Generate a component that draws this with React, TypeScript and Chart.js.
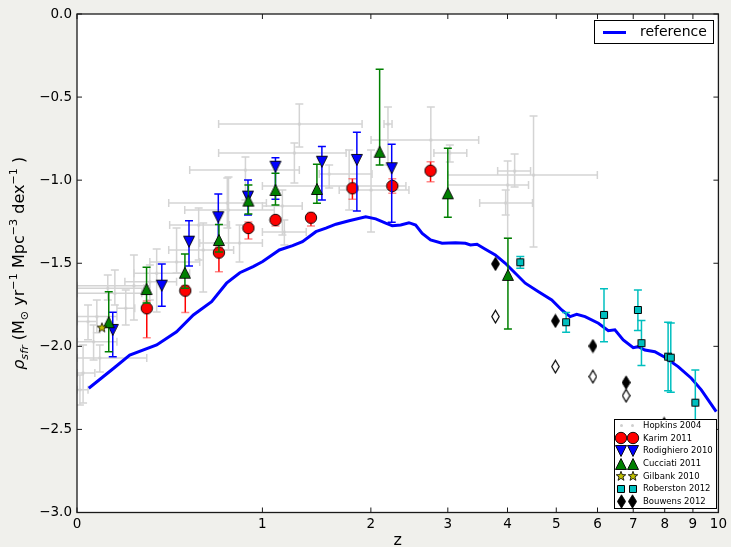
import React, { useEffect, useRef } from 'react';
import { Chart, registerables } from 'chart.js';

Chart.register(...registerables);

const FONT = "'DejaVu Sans', 'Liberation Sans', sans-serif";
const FIG_BG = '#f0f0ec';

// ---- reference model curve ----
const refZ = [0.045, 0.147, 0.218, 0.347, 0.451, 0.545, 0.654, 0.749, 0.838, 0.932, 1.002, 1.131, 1.239, 1.323, 1.443, 1.536, 1.633, 1.766, 1.943, 2.055, 2.171, 2.25, 2.354, 2.459, 2.547, 2.635, 2.75, 2.915, 3.116, 3.272, 3.353, 3.461, 3.603, 3.777, 3.959, 4.148, 4.343, 4.615, 4.899, 5.124, 5.318, 5.476, 5.682, 6.023, 6.289, 6.47, 6.706, 7.0, 7.151, 7.356, 7.673, 8.003, 8.461, 8.94, 9.318, 9.911];
const refV = [-2.252, -2.132, -2.052, -1.992, -1.912, -1.811, -1.731, -1.62, -1.557, -1.52, -1.49, -1.42, -1.394, -1.37, -1.31, -1.289, -1.265, -1.244, -1.22, -1.233, -1.259, -1.274, -1.27, -1.256, -1.27, -1.32, -1.36, -1.38, -1.376, -1.38, -1.39, -1.386, -1.416, -1.45, -1.5, -1.56, -1.62, -1.671, -1.721, -1.781, -1.821, -1.807, -1.821, -1.861, -1.906, -1.901, -1.961, -2.008, -2.002, -2.022, -2.032, -2.066, -2.122, -2.192, -2.262, -2.393];

// ---- Hopkins 2004 (x and y error bars) ----
const hopZ = [0.023, 0.089, 0.064, 0.042, 0.077, 0.200, 0.152, 0.122, 0.237, 0.313, 0.347, 0.603, 0.451, 0.754, 0.877, 0.011, 1.296, 1.254, 1.567, 1.766, 2.002, 1.155, 1.171, 0.836, 2.198, 2.754, 3.030, 4.511, 4.135, 4.003, 3.966, 0.762, 0.576];
const hopZlo = [0, 0, 0, 0, 0, 0.161, 0, 0, 0, 0.196, 0.237, 0.409, 0.313, 0.409, 0.524, 0, 0.698, 0.698, 1.474, 1.0, 1.665, 1.0, 1.0, 0.582, 2.151, 2.002, 2.797, 3.0, 3.819, 3.0, 3.506, 0.496, 0.414];
const hopZhi = [0.069, 0.298, 0.161, 0.077, 0.161, 0.241, 0.274, 0.284, 0.313, 0.451, 0.524, 0.796, 0.582, 1.030, 1.296, 0.042, 1.903, 1.735, 2.013, 2.420, 2.459, 1.321, 1.356, 1.0, 2.247, 3.489, 3.294, 5.996, 4.450, 4.409, 4.490, 1.091, 0.768];
const hopV = [-2.160, -2.070, -1.972, -1.851, -1.821, -1.771, -1.681, -1.650, -1.635, -1.611, -1.560, -1.420, -1.492, -1.137, -0.939, -2.262, -0.662, -0.836, -0.963, -1.035, -1.059, -1.155, -1.312, -1.378, -0.662, -0.758, -0.836, -0.969, -0.945, -1.029, -1.137, -1.179, -1.270];
const hopVhi = [-1.992, -1.992, -1.871, -1.751, -1.721, -1.661, -1.540, -1.570, -1.450, -1.510, -1.414, -1.258, -1.288, -0.987, -0.860, -2.172, -0.542, -0.776, -0.909, -0.818, -0.818, -1.059, -1.239, -1.270, -0.560, -0.560, -0.788, -0.614, -0.842, -0.884, -1.059, -0.981, -1.167];
const hopVlo = [-2.341, -2.154, -2.082, -1.961, -1.919, -1.871, -1.751, -1.721, -1.841, -1.721, -1.793, -1.673, -1.558, -1.288, -1.119, -2.353, -0.800, -1.017, -1.047, -1.179, -1.312, -1.330, -1.390, -1.492, -0.909, -0.969, -0.890, -1.402, -1.041, -1.348, -1.209, -1.420, -1.480];

// ---- Karim 2011 ----
const karimZ = [0.298, 0.499, 0.70, 0.898, 1.10, 1.398, 1.80, 2.25, 2.75];
const karimV = [-1.771, -1.665, -1.436, -1.288, -1.239, -1.226, -1.049, -1.035, -0.943];
const karimHi = [-1.727, -1.635, -1.404, -1.252, -1.215, -1.199, -0.991, -0.991, -0.889];
const karimLo = [-1.948, -1.797, -1.551, -1.354, -1.276, -1.276, -1.115, -1.079, -1.009];

// ---- Rodighiero 2010 ----
const rodZ = [0.143, 0.373, 0.520, 0.696, 0.895, 1.10, 1.498, 1.847, 2.243];
const rodV = [-1.901, -1.635, -1.370, -1.223, -1.099, -0.919, -0.889, -0.878, -0.928];
const rodHi = [-1.795, -1.504, -1.244, -1.084, -0.999, -0.865, -0.798, -0.712, -0.784];
const rodLo = [-2.062, -1.759, -1.516, -1.380, -1.209, -1.115, -1.119, -1.185, -1.253];

// ---- Cucciati 2011 ----
const cucZ = [0.126, 0.297, 0.497, 0.70, 0.898, 1.10, 1.452, 2.10, 3.0, 4.008];
const cucV = [-1.855, -1.655, -1.557, -1.360, -1.123, -1.059, -1.053, -0.829, -1.079, -1.570];
const cucHi = [-1.671, -1.524, -1.445, -1.267, -1.029, -0.958, -0.904, -0.333, -0.808, -1.350];
const cucLo = [-2.032, -1.739, -1.650, -1.432, -1.203, -1.149, -1.139, -0.909, -1.223, -1.895];

// ---- Gilbank 2010 ----
const gilZ = [0.0975];
const gilV = [-1.887];

// ---- Roberston 2012 ----
const robZ = [4.245, 5.225, 6.172, 7.141, 7.25, 8.114, 8.206, 9.09];
const robV = [-1.494, -1.855, -1.811, -1.781, -1.981, -2.062, -2.068, -2.339];
const robHi = [-1.460, -1.797, -1.653, -1.661, -1.845, -1.855, -1.859, -2.142];
const robLo = [-1.530, -1.915, -1.972, -1.905, -2.116, -2.268, -2.276, -2.533];

// ---- Bouwens 2012 ----
const bouZ = [3.78, 4.98, 5.88, 6.79, 7.98];
const bouV = [-1.504, -1.847, -1.998, -2.218, -2.467];
const bouOpenZ = [3.78, 4.98, 5.88, 6.79];
const bouOpenV = [-1.821, -2.122, -2.182, -2.297];

// ---- axis ticks ----
const zTicks = [0, 1, 2, 3, 4, 5, 6, 7, 8, 9, 10];
const yTicks = [0, -0.5, -1, -1.5, -2, -2.5, -3];

function mk(w: number, h: number, draw: (g: CanvasRenderingContext2D) => void): HTMLCanvasElement {
  const c = document.createElement('canvas');
  c.width = w;
  c.height = h;
  const g = c.getContext('2d')!;
  draw(g);
  return c;
}

function makeMarkers() {
  const edge = (g: CanvasRenderingContext2D, fill: string, lw = 1) => {
    g.fillStyle = fill;
    g.fill();
    g.lineWidth = lw;
    g.strokeStyle = '#000';
    g.stroke();
  };
  const diamondPath = (g: CanvasRenderingContext2D) => {
    g.beginPath(); g.moveTo(4.5, 0.8); g.lineTo(8.6, 7.5); g.lineTo(4.5, 14.2); g.lineTo(0.4, 7.5); g.closePath();
  };
  return {
    circle: mk(14, 14, (g) => { g.beginPath(); g.arc(7, 7, 5.7, 0, Math.PI * 2); edge(g, '#ff0000', 0.9); }),
    triDown: mk(14, 14, (g) => { g.beginPath(); g.moveTo(1.5, 1.5); g.lineTo(12.5, 1.5); g.lineTo(7, 12.5); g.closePath(); edge(g, '#0000ff', 0.9); }),
    triUp: mk(14, 14, (g) => { g.beginPath(); g.moveTo(7, 1.5); g.lineTo(12.5, 12.5); g.lineTo(1.5, 12.5); g.closePath(); edge(g, '#008000', 0.9); }),
    star: mk(12, 12, (g) => {
      g.beginPath();
      for (let i = 0; i < 10; i++) {
        const r = i % 2 === 0 ? 5 : 2.1;
        const a = -Math.PI / 2 + (i * Math.PI) / 5;
        const x = 6 + r * Math.cos(a), y = 6.3 + r * Math.sin(a);
        if (i === 0) g.moveTo(x, y); else g.lineTo(x, y);
      }
      g.closePath();
      edge(g, '#bfbf00', 0.8);
    }),
    square: mk(10, 10, (g) => { g.beginPath(); g.rect(1.5, 1.5, 7, 7); edge(g, '#00bfbf', 1); }),
    diamond: mk(9, 15, (g) => { diamondPath(g); edge(g, '#000000', 0.8); }),
    diamondOpen: mk(9, 15, (g) => { g.beginPath(); g.moveTo(4.5, 1.2); g.lineTo(8.2, 7.5); g.lineTo(4.5, 13.8); g.lineTo(0.8, 7.5); g.closePath(); edge(g, '#ffffff', 1.2); }),
    dot: mk(5, 5, (g) => { g.beginPath(); g.arc(2.5, 2.5, 1.5, 0, Math.PI * 2); g.fillStyle = '#cfcfcf'; g.fill(); }),
  };
}

const errorBarPlugin = {
  id: 'errbars',
  beforeDatasetDraw(chart: any, args: any) {
    const ds: any = chart.data.datasets[args.index];
    if (!ds.errHi && !ds.xLo) return;
    const { ctx, chartArea: a, scales } = chart;
    const xs = scales.x, ys = scales.y;
    ctx.save();
    ctx.beginPath();
    ctx.rect(a.left, a.top, a.right - a.left, a.bottom - a.top);
    ctx.clip();
    const cap = ds.capSize || 4;
    ctx.lineWidth = ds.errWidth || 1.5;
    ds.data.forEach((p: any, i: number) => {
      const px = xs.getPixelForValue(p.x);
      const py = ys.getPixelForValue(p.y);
      if (ds.xLo) {
        const x1 = xs.getPixelForValue(ds.xLo[i]);
        const x2 = xs.getPixelForValue(ds.xHi[i]);
        ctx.strokeStyle = ds.errColor;
        ctx.beginPath(); ctx.moveTo(x1, py); ctx.lineTo(x2, py); ctx.stroke();
        ctx.strokeStyle = ds.capColor;
        ctx.beginPath();
        ctx.moveTo(x1, py - cap); ctx.lineTo(x1, py + cap);
        ctx.moveTo(x2, py - cap); ctx.lineTo(x2, py + cap);
        ctx.stroke();
      }
      if (ds.errHi) {
        const y1 = ys.getPixelForValue(ds.errHi[i]);
        const y2 = ys.getPixelForValue(ds.errLo[i]);
        ctx.strokeStyle = ds.errColor;
        ctx.beginPath(); ctx.moveTo(px, y1); ctx.lineTo(px, y2); ctx.stroke();
        ctx.strokeStyle = ds.capColor;
        ctx.beginPath();
        ctx.moveTo(px - cap, y1); ctx.lineTo(px + cap, y1);
        ctx.moveTo(px - cap, y2); ctx.lineTo(px + cap, y2);
        ctx.stroke();
      }
    });
    ctx.restore();
  },
};

function makeDecorPlugin(M: any) {
  return {
    id: 'decor',
    beforeDraw(chart: any) {
      const { ctx, width, height, chartArea: a } = chart;
      ctx.save();
      ctx.fillStyle = FIG_BG;
      ctx.fillRect(0, 0, width, height);
      ctx.fillStyle = '#ffffff';
      ctx.fillRect(a.left, a.top, a.right - a.left, a.bottom - a.top);
      ctx.restore();
    },
    afterDatasetsDraw(chart: any) {
      const { ctx, chartArea: a, scales } = chart;
      ctx.save();
      ctx.strokeStyle = '#1a1a1a';
      ctx.lineWidth = 1;
      ctx.beginPath();
      zTicks.forEach((z) => {
        const px = scales.x.getPixelForValue(1 + z);
        ctx.moveTo(px, a.bottom); ctx.lineTo(px, a.bottom - 5);
        ctx.moveTo(px, a.top); ctx.lineTo(px, a.top + 5);
      });
      yTicks.forEach((v) => {
        const py = scales.y.getPixelForValue(v);
        ctx.moveTo(a.left, py); ctx.lineTo(a.left + 5, py);
        ctx.moveTo(a.right, py); ctx.lineTo(a.right - 5, py);
      });
      ctx.stroke();
      ctx.lineWidth = 1.3;
      ctx.strokeRect(a.left, a.top, a.right - a.left, a.bottom - a.top);
      ctx.restore();
    },
    afterDraw(chart: any) {
      const { ctx, chartArea: a } = chart;
      // y-axis label with sub/superscripts
      const base = 16;
      const segs = [
        { t: '\u03C1', s: 1, it: true, dy: 0 },
        { t: 'sfr', s: 0.7, it: true, dy: 0.22 },
        { t: ' (M', s: 1, it: false, dy: 0 },
        { t: '\u2299', s: 0.7, it: false, dy: 0.22 },
        { t: ' yr', s: 1, it: false, dy: 0 },
        { t: '\u22121', s: 0.7, it: false, dy: -0.42 },
        { t: ' Mpc', s: 1, it: false, dy: 0 },
        { t: '\u22123', s: 0.7, it: false, dy: -0.42 },
        { t: ' dex', s: 1, it: false, dy: 0 },
        { t: '\u22121', s: 0.7, it: false, dy: -0.42 },
        { t: ' )', s: 1, it: false, dy: 0 },
      ];
      ctx.save();
      ctx.translate(24, (a.top + a.bottom) / 2);
      ctx.rotate(-Math.PI / 2);
      ctx.fillStyle = '#000';
      ctx.textBaseline = 'alphabetic';
      ctx.textAlign = 'left';
      const fontOf = (sg: any) => `${sg.it ? 'italic ' : ''}${base * sg.s}px ${FONT}`;
      let total = 0;
      segs.forEach((sg) => { ctx.font = fontOf(sg); total += ctx.measureText(sg.t).width; });
      let x = -total / 2;
      segs.forEach((sg) => {
        ctx.font = fontOf(sg);
        ctx.fillText(sg.t, x, sg.dy * base);
        x += ctx.measureText(sg.t).width;
      });
      ctx.restore();

      // legend 1 (reference)
      ctx.save();
      ctx.fillStyle = '#ffffff';
      ctx.fillRect(594.5, 20.5, 119, 23);
      ctx.strokeStyle = '#000';
      ctx.lineWidth = 1;
      ctx.strokeRect(594.5, 20.5, 119, 23);
      ctx.strokeStyle = '#0000ff';
      ctx.lineWidth = 3;
      ctx.beginPath(); ctx.moveTo(603, 32.5); ctx.lineTo(626, 32.5); ctx.stroke();
      ctx.fillStyle = '#000';
      ctx.font = `14px ${FONT}`;
      ctx.textBaseline = 'middle';
      ctx.textAlign = 'left';
      ctx.fillText('reference', 640, 32.5);

      // legend 2 (data sets)
      const entries = [
        { label: 'Hopkins 2004', m: M.dot },
        { label: 'Karim 2011', m: M.circle },
        { label: 'Rodighiero 2010', m: M.triDown },
        { label: 'Cucciati 2011', m: M.triUp },
        { label: 'Gilbank 2010', m: M.star },
        { label: 'Roberston 2012', m: M.square },
        { label: 'Bouwens 2012', m: M.diamond },
      ];
      ctx.fillStyle = '#ffffff';
      ctx.fillRect(614.5, 419.5, 102, 89);
      ctx.strokeStyle = '#000';
      ctx.lineWidth = 1;
      ctx.strokeRect(614.5, 419.5, 102, 89);
      ctx.font = `8.5px ${FONT}`;
      ctx.fillStyle = '#000';
      entries.forEach((e, i) => {
        const cy = 425.7 + i * 12.67;
        [621, 632.7].forEach((cx) => {
          ctx.drawImage(e.m, Math.round(cx - e.m.width / 2), Math.round(cy - e.m.height / 2));
        });
        ctx.fillText(e.label, 643, cy);
      });
      ctx.restore();
    },
  };
}

export default function App() {
  const ref = useRef<HTMLCanvasElement>(null);

  useEffect(() => {
    const canvas = ref.current;
    if (!canvas) return;
    const M = makeMarkers();
    const pts = (zs: number[], vs: number[]) => zs.map((z, i) => ({ x: 1 + z, y: vs[i] }));

    const datasets: any[] = [
      {
        label: 'Hopkins 2004', data: pts(hopZ, hopV), pointStyle: M.dot, pointRadius: 3, order: 10,
        errHi: hopVhi, errLo: hopVlo, xLo: hopZlo.map((z) => 1 + z), xHi: hopZhi.map((z) => 1 + z),
        errColor: '#d4d4d4', capColor: '#d4d4d4', capSize: 4, errWidth: 1.5,
      },
      {
        label: 'reference', data: pts(refZ, refV), showLine: true, borderColor: '#0000ff', borderWidth: 3,
        pointRadius: 0, order: 9, fill: false, tension: 0,
      },
      {
        label: 'Karim 2011', data: pts(karimZ, karimV), pointStyle: M.circle, pointRadius: 6, order: 8,
        errHi: karimHi, errLo: karimLo, errColor: '#ff0000', capColor: 'rgba(255,60,60,0.6)', capSize: 4, errWidth: 1.5,
      },
      {
        label: 'Rodighiero 2010', data: pts(rodZ, rodV), pointStyle: M.triDown, pointRadius: 6, order: 7,
        errHi: rodHi, errLo: rodLo, errColor: '#0000ff', capColor: '#0000ff', capSize: 4, errWidth: 1.5,
      },
      {
        label: 'Cucciati 2011', data: pts(cucZ, cucV), pointStyle: M.triUp, pointRadius: 6, order: 6,
        errHi: cucHi, errLo: cucLo, errColor: '#008000', capColor: '#008000', capSize: 4, errWidth: 1.5,
      },
      { label: 'Gilbank 2010', data: pts(gilZ, gilV), pointStyle: M.star, pointRadius: 5, order: 5 },
      {
        label: 'Roberston 2012', data: pts(robZ, robV), pointStyle: M.square, pointRadius: 5, order: 4,
        errHi: robHi, errLo: robLo, errColor: '#00bfbf', capColor: '#00bfbf', capSize: 4, errWidth: 1.5,
      },
      { label: 'Bouwens 2012', data: pts(bouZ, bouV), pointStyle: M.diamond, pointRadius: 6, order: 3 },
      { label: 'Bouwens 2012 (open)', data: pts(bouOpenZ, bouOpenV), pointStyle: M.diamondOpen, pointRadius: 6, order: 2 },
    ];

    const chart = new Chart(canvas, {
      type: 'scatter',
      data: { datasets },
      options: {
        animation: false,
        responsive: false,
        devicePixelRatio: 1,
        layout: { padding: { top: 14, right: 10.5, left: 0, bottom: 0 } },
        plugins: { legend: { display: false }, tooltip: { enabled: false }, title: { display: false } },
        scales: {
          x: {
            type: 'logarithmic',
            min: 1,
            max: 11,
            afterBuildTicks: (s: any) => { s.ticks = zTicks.map((z) => ({ value: 1 + z })); },
            afterFit: (s: any) => { s.height = 34.5; },
            grid: { display: false, drawTicks: false },
            border: { display: false },
            ticks: {
              autoSkip: false, maxRotation: 0, minRotation: 0, padding: 4, color: '#000',
              font: { family: FONT, size: 13.5 },
              callback: (v: any) => String(Math.round(Number(v) - 1)),
            },
            title: { display: true, text: 'z', color: '#000', font: { family: FONT, size: 16 }, padding: { top: 0, bottom: -3 } },
          },
          y: {
            type: 'linear',
            min: -3,
            max: 0,
            afterBuildTicks: (s: any) => { s.ticks = yTicks.map((v) => ({ value: v })); },
            afterFit: (s: any) => { s.width = 77; },
            grid: { display: false, drawTicks: false },
            border: { display: false },
            ticks: {
              padding: 5, color: '#000', font: { family: FONT, size: 13.5 },
              callback: (v: any) => { const n = Number(v); return (n < 0 ? '\u2212' : '') + Math.abs(n).toFixed(1); },
            },
          },
        },
      } as any,
      plugins: [errorBarPlugin as any, makeDecorPlugin(M) as any],
    });
    return () => chart.destroy();
  }, []);

  return (
    <div style={{ position: 'absolute', left: 0, top: 0, width: 731, height: 547, background: FIG_BG }}>
      <canvas ref={ref} width={731} height={547} style={{ display: 'block', width: 731, height: 547 }} />
    </div>
  );
}
